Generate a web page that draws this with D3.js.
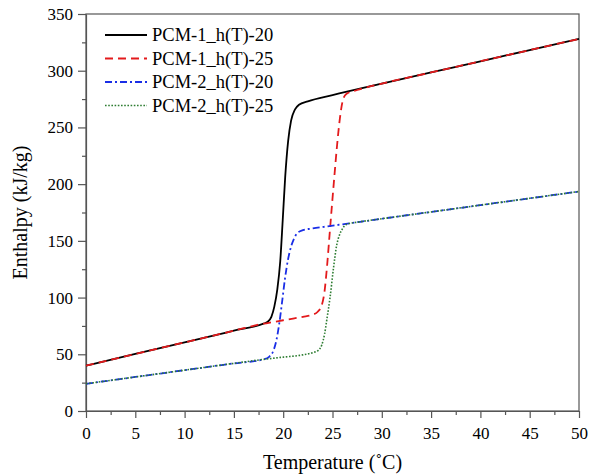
<!DOCTYPE html>
<html>
<head>
<meta charset="utf-8">
<script src="https://cdn.jsdelivr.net/npm/d3@7"></script>
<style>
  body { margin: 0; background: #fff; }
  text { font-family: "Times New Roman", "Liberation Serif", serif; fill: #000; }
</style>
</head>
<body>
<svg id="chart" width="589" height="476"></svg>
<script>
// data ------------------------------------------------------
var seriesNames = ["PCM-1_h(T)-20", "PCM-1_h(T)-25", "PCM-2_h(T)-20", "PCM-2_h(T)-25"];

var t1_20 = [0, 5, 10, 15, 18, 18.4, 18.8, 19.1, 19.4, 19.7, 19.95, 20.2, 20.5, 20.8, 21.2, 21.6, 22.5, 25, 30, 35, 40, 45, 50];
var h1_20 = [40, 50.3, 60.5, 70.8, 77, 78.5, 83, 92, 107, 132, 168, 206, 238, 256, 266, 270, 273, 278.5, 288.6, 298.5, 308.3, 318.2, 328];

var t1_25 = [0, 5, 10, 15, 18, 19, 20, 21, 22, 23, 23.5, 23.9, 24.2, 24.45, 24.7, 24.95, 25.2, 25.45, 25.75, 26.05, 26.4, 27.5, 30, 35, 40, 45, 50];
var h1_25 = [40, 50.3, 60.5, 70.8, 77, 78.5, 80, 81.5, 83, 85, 87.5, 93, 106, 128, 155, 182, 208, 233, 258, 274, 279.5, 283, 288.6, 298.5, 308.3, 318.2, 328];

var t2_20 = [0, 5, 10, 15, 18, 18.6, 19.0, 19.3, 19.6, 19.9, 20.2, 20.5, 20.8, 21.1, 21.4, 22, 23, 24.7, 27.8, 30, 35, 40, 45, 50];
var h2_20 = [24, 30, 36, 42, 45.5, 48, 53, 62, 77, 97, 118, 134, 145, 152, 156.5, 159.5, 161, 163, 166.8, 169.5, 175.5, 181.5, 187.5, 193.5];

var t2_25 = [0, 5, 10, 15, 18, 20, 22, 23, 23.56, 23.9, 24.2, 24.45, 24.75, 25.1, 25.4, 25.7, 26.0, 26.4, 27.8, 30, 35, 40, 45, 50];
var h2_25 = [24, 30, 36, 42, 45.5, 47.5, 49.5, 51.5, 53.5, 58, 68, 82, 100, 126, 145, 155, 160.5, 164.5, 166.8, 169.5, 175.5, 181.5, 187.5, 193.5];

var xTicks = [0, 5, 10, 15, 20, 25, 30, 35, 40, 45, 50];
var yTicks = [0, 50, 100, 150, 200, 250, 300, 350];

// layout ----------------------------------------
var svg = d3.select("#chart");
var margin = { top: 14, right: 10, bottom: 65, left: 86 };
var width = 589 - margin.left - margin.right;
var height = 476 - margin.top - margin.bottom;

var x = d3.scaleLinear().domain([0, 50]).range([0, width]);
var y = d3.scaleLinear().domain([0, 350]).range([height, 0]);

var g = svg.append("g")
  .attr("transform", "translate(" + margin.left + "," + margin.top + ")");

var frameColor = "#555";

// minor ticks
var xMinor = d3.range(2.5, 50, 5);
var yMinor = d3.range(25, 350, 50);

g.append("g")
  .attr("transform", "translate(0," + height + ")")
  .call(d3.axisBottom(x).tickValues(xMinor).tickSize(4).tickFormat(""))
  .call(function(a) { a.select(".domain").remove(); })
  .selectAll("line").attr("stroke", frameColor).attr("stroke-width", 1.2);

g.append("g")
  .call(d3.axisLeft(y).tickValues(yMinor).tickSize(4).tickFormat(""))
  .call(function(a) { a.select(".domain").remove(); })
  .selectAll("line").attr("stroke", frameColor).attr("stroke-width", 1.2);

// major axes
var xAxis = g.append("g")
  .attr("transform", "translate(0," + height + ")")
  .call(d3.axisBottom(x).tickValues(xTicks).tickSize(7).tickPadding(9).tickSizeOuter(0));

var yAxis = g.append("g")
  .call(d3.axisLeft(y).tickValues(yTicks).tickSize(8).tickPadding(5).tickSizeOuter(0));

[xAxis, yAxis].forEach(function(a) {
  a.selectAll("line").attr("stroke", frameColor).attr("stroke-width", 1.2);
  a.select(".domain").attr("stroke", frameColor).attr("stroke-width", 1.2);
  a.selectAll("text").attr("font-size", 17)
    .style("font-family", "'Times New Roman', 'Liberation Serif', serif").attr("fill", "#000");
});

// frame top / right
g.append("rect")
  .attr("x", 0).attr("y", 0)
  .attr("width", width).attr("height", height)
  .attr("fill", "none")
  .attr("stroke", frameColor)
  .attr("stroke-width", 1.2);

// curves ----------------------------------------
var styles = [
  { color: "#000000", dash: null, w: 1.8 },
  { color: "#e31a1c", dash: "8,5", w: 1.8 },
  { color: "#1a2ee6", dash: "7,3,2,3", w: 1.8 },
  { color: "#2e7d32", dash: "1.6,1.6", w: 1.6 }
];

var allSeries = [
  d3.zip(t1_20, h1_20),
  d3.zip(t1_25, h1_25),
  d3.zip(t2_20, h2_20),
  d3.zip(t2_25, h2_25)
];

var line = d3.line()
  .x(function(d) { return x(d[0]); })
  .y(function(d) { return y(d[1]); })
  .curve(d3.curveMonotoneX);

allSeries.forEach(function(s, i) {
  g.append("path")
    .datum(s)
    .attr("d", line)
    .attr("fill", "none")
    .attr("stroke", styles[i].color)
    .attr("stroke-width", styles[i].w)
    .attr("stroke-dasharray", styles[i].dash);
});

// legend ----------------------------------------
var legend = g.append("g").attr("transform", "translate(19,21)");
seriesNames.forEach(function(name, i) {
  var row = legend.append("g").attr("transform", "translate(0," + (i * 23.5) + ")");
  row.append("line")
    .attr("x1", 0).attr("x2", 42)
    .attr("y1", 0).attr("y2", 0)
    .attr("stroke", styles[i].color)
    .attr("stroke-width", styles[i].w)
    .attr("stroke-dasharray", styles[i].dash);
  row.append("text")
    .attr("x", 47).attr("y", 6)
    .attr("font-size", 18.5)
    .text(name);
});

// axis titles ----------------------------------------
svg.append("text")
  .attr("x", margin.left + width / 2)
  .attr("y", 469)
  .attr("text-anchor", "middle")
  .attr("font-size", 20)
  .text("Temperature (˚C)");

svg.append("text")
  .attr("transform", "translate(27," + (margin.top + height / 2) + ") rotate(-90)")
  .attr("text-anchor", "middle")
  .attr("font-size", 20)
  .text("Enthalpy (kJ/kg)");
</script>
</body>
</html>
